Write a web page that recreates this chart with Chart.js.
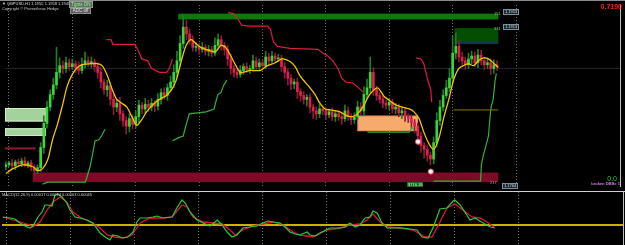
<!DOCTYPE html>
<html><head><meta charset="utf-8">
<script src="https://cdn.jsdelivr.net/npm/chart.js@4"></script>
<style>
html,body{margin:0;padding:0;background:#000;width:625px;height:245px;overflow:hidden;}
#wrap{position:relative;width:625px;height:245px;background:#000;}
#main{position:absolute;left:0;top:0;width:625px;height:191px;}
#sub{position:absolute;left:0;top:192px;width:625px;height:53px;}
.t{position:absolute;font-family:"Liberation Sans",Arial,sans-serif;white-space:nowrap;line-height:1;}
.tag{position:absolute;background:#1d2a31;border:1px solid #7d909a;color:#c9d7de;font-family:"Liberation Sans",Arial,sans-serif;font-size:4px;line-height:4px;height:4px;padding:0 1px;white-space:nowrap;}
</style></head><body>
<div id="wrap">
<div id="main"><canvas id="c1" width="625" height="191"></canvas></div>
<div id="sub"><canvas id="c2" width="625" height="53"></canvas></div>
<div style="position:absolute;left:0;top:0;width:625px;height:1px;background:#8c8c8c"></div>
<div style="position:absolute;left:0;top:191px;width:625px;height:1px;background:#cfcfcf"></div>

<div class="t" style="left:2px;top:2px;font-size:4px;color:#d8d8d8">▼ GBPUSD,H1 1.1955 1.1958 1.1949 1.1953</div>
<div class="t" style="left:2px;top:7px;font-size:4px;color:#c8c8c8">Copyright © Prometheus Hedge</div>
<div class="t" style="left:69px;top:1px;width:24px;height:7px;background:#5f6f5f;border:1px solid #8c9c8c;box-sizing:border-box;color:#8dff8d;font-size:4.5px;text-align:center;line-height:5px">Tgnts ON</div>
<div class="t" style="left:70px;top:8px;width:21px;height:6px;background:#5c5c5c;border:1px solid #8a8a8a;box-sizing:border-box;color:#e0e0e0;font-size:4.5px;text-align:center;line-height:4px">ADC off</div>

<div class="t" style="left:600px;top:3px;width:22px;text-align:right;font-size:7px;font-weight:bold;color:#ff1c1c">0.7190</div>
<div class="t" style="left:600px;top:175px;width:17px;text-align:right;font-size:7px;color:#2ec42e">0.0</div>
<div class="t" style="left:580px;top:182px;width:40px;text-align:right;font-size:4px;font-weight:bold;color:#c77be6">broken DBB= 1</div>

<div class="t" style="left:494px;top:12px;font-size:4px;color:#9ab89a">151</div>
<div class="t" style="left:494px;top:27px;font-size:4px;color:#9ab89a">331</div>
<div class="t" style="left:490px;top:181px;font-size:4px;color:#c89aa0">217</div>
<div class="tag" style="left:503px;top:9px">1.1953</div>
<div class="tag" style="left:503px;top:24px">1.1913</div>
<div class="tag" style="left:502px;top:183px">1.1764</div>
<div class="t" style="left:407px;top:182px;height:5px;background:#1f6b1f;color:#c8f0c8;font-size:4px;line-height:5px;padding:0 1px">$716.18</div>

<div class="t" style="left:2px;top:193px;font-size:4px;color:#cfcfcf">MACD(12,26,9) 0.00017 0.00014 0.00003 0.00045</div>
</div>

<script>
// ---------- DATA (main pane, price in points) ----------
const firstOpen = 20;
const close = [22,24,21,25,23,26,22,24,20,16,
 19,40,65,82,95,105,118,125,122,128,
 124,127,123,120,126,130,127,129,124,118,
 108,100,104,90,82,86,75,68,62,70,
 64,72,84,80,85,82,86,83,90,97,
 94,102,108,118,130,148,165,158,152,144,
 145,142,144,140,142,138,146,152,146,142,
 132,122,118,116,120,124,121,122,130,124,
 128,125,134,130,135,132,133,124,118,112,
 106,108,98,94,90,92,82,78,75,80,
 78,74,77,72,75,72,70,78,72,69,
 72,82,78,95,102,118,100,94,90,86,
 84,87,80,82,76,78,72,70,66,62,
 52,42,38,32,28,45,68,82,94,102,
 112,138,145,134,130,126,132,135,128,136,
 130,126,128,122,126,124];
const wickUp = [3,2,4,2,3,3,4,2,3,2,
 3,5,8,6,5,7,26,8,5,6,
 4,5,3,6,7,9,4,5,3,4,
 5,3,6,4,5,4,6,3,4,5,
 4,6,5,3,6,4,5,3,6,4,
 5,4,6,8,10,8,12,7,5,4,
 4,3,5,3,4,3,8,6,4,3,
 4,5,3,4,5,3,4,3,6,4,
 4,3,6,4,5,3,4,3,4,3,
 4,3,4,3,4,3,4,3,4,5,
 3,4,3,4,3,4,3,6,4,3,
 4,6,5,8,9,16,5,4,3,4,
 3,4,3,4,3,4,3,3,4,3,
 3,4,3,4,3,6,8,7,6,8,
 10,18,14,6,5,4,6,5,4,6,
 5,4,5,4,5,4];
const wickDn = [3,2,3,4,2,3,2,3,4,5,
 3,4,6,5,4,5,4,6,5,4,
 4,3,5,4,3,4,3,4,5,6,
 6,5,7,6,8,5,7,6,8,6,
 5,4,6,5,4,5,4,6,4,5,
 4,5,4,6,5,6,5,6,5,4,
 4,5,3,4,5,4,3,4,5,6,
 7,6,5,4,3,4,3,4,3,4,
 3,4,3,4,3,4,3,5,6,7,
 6,5,7,6,5,7,6,8,6,4,
 4,5,3,4,5,4,6,3,4,5,
 4,3,4,5,4,5,6,5,4,5,
 4,5,4,5,4,6,5,4,6,7,
 8,7,9,6,6,5,4,5,4,3,
 4,5,6,5,4,5,4,5,4,5,
 4,5,4,6,5,4];
// moving average [bar index, price]
const maLine = [[0,13],[2.25,18],[5.4,22],[8.5,20],[10,16],[11.6,18],[13.2,27],[14.75,48],[16.3,64],[17.9,84],[19.4,104],[21,116],[22.6,123],[24.1,126],[26.6,127],[28.8,127],[30.4,125],[32,115],[33.5,101],[35,90],[36.6,86],[38.2,82],[39.8,72],[41.3,63],[42.9,69],[44.4,77],[46,83],[47.6,88],[49.1,91],[50.7,94],[52.3,100],[53.8,110],[55.4,130],[56.9,146],[58.5,152],[60,148],[61.6,144],[64.8,140],[66.3,140],[67.9,146],[69.4,144],[71,135],[72.6,125],[74.1,118],[77.3,120],[80.4,120],[82,124],[85,128],[87.3,132],[89.8,129],[91.3,124],[92.9,114],[96,102],[97.6,95],[99.1,86],[100.7,80],[102.3,79],[105.4,77],[107,74],[108.5,72],[110.1,73],[111.6,77],[113.2,85],[114.8,95],[117.3,102],[119.4,93],[121,89],[122.6,85],[124.1,83],[127.3,80],[128.8,77],[130.4,70],[131.9,56],[133.5,44],[135,38],[136.6,49],[138.2,71],[139.8,90],[141.3,110],[142.9,122],[144.4,125],[146,127],[147.6,125],[149.1,130],[150.7,133],[152.3,132],[153.8,128],[155.4,123]];
// upper band segments
const upperBand = [
 [[31.7,152],[33.2,152],[33.8,147],[40.7,147],[41.9,140],[42.9,132],[44.8,130],[46,122],[48.5,118],[50.7,118],[51.6,122],[52.6,132]],
 [[70.1,180],[71.9,179],[73.2,174],[74.4,167],[76.6,166],[82.6,166],[83.5,163],[84.4,150],[85.7,145],[89.75,143],[98.5,142],[100.1,138],[101.6,135],[103.2,130],[104.8,122],[106,112],[107.3,108],[109.4,107],[111,103],[112.6,98]],
 [[129.4,133],[131,132],[131.9,127],[132.9,113],[134.1,100],[134.4,87]]
];
// lower band segments
const lowerBand = [
 [[11.6,2],[13.2,4],[25.1,4],[26.6,20],[28.2,47],[29.4,48],[30.4,53],[31.3,59]],
 [[52.6,47],[54.4,50],[56,52],[56.6,60],[57.9,75],[63.2,77],[65.7,80],[66.9,95],[67.9,97],[68.8,105],[69.75,110]],
 [[114.1,56],[127.3,56],[127.9,59],[128.2,61],[128.8,58]],
 [[135,5],[149.8,5],[150.1,23],[150.7,32],[151.6,43],[152.3,52],[152.9,75],[153.2,83],[153.8,90],[154.4,110],[154.8,117]]
];
const levelLine = [[-0.25,39],[9.4,39]];
const olivLine = [[141.3,79],[155.4,79]];
const signals = [[130.1,46],[134.1,15]];
// zones [fromBar, toBar, topPrice, bottomPrice]
const zones = [
 [54.4,155.4,179,173],
 [141.6,155.4,164,149],
 [-0.25,12.6,81,67],
 [-0.25,12.6,60,52],
 [8.5,155.4,14,4],
 [111,130,73,57]
];
const zoneFill = ['#0b7a0b','#024f02','#a3d29d','#a3d29d','#7b0b27','#f6aa6e'];
const zoneEdge = [null,'#2a4fa0','#d2ecc8','#d2ecc8',null,'#e8905a'];
const gridBars = [1,21,41,61,81,101,121,141,161];
const hLevel = 122;
// ---------- DATA (MACD pane) ----------
const macdMain = [[0,8],[2.25,7],[3.8,6],[5.4,2],[6.9,-1],[8.5,-3],[9.4,-1],[11,8],[12.25,13],[13.2,20],[14.1,20],[15.4,19],[16.3,30],[17.25,31],[18.5,28],[20,22],[21,15],[22.6,8],[24.1,7],[26.3,5],[28.2,2],[30.4,-8],[32,-12],[33.5,-15],[34.4,-10],[36,-11],[37.25,-13],[39.1,-12],[40.7,-7],[41.9,3],[42.9,7],[45,7],[46.9,8],[48.2,9],[50.1,7],[52.9,8],[54.4,17],[56,25],[57,22],[58.5,13],[60.7,5],[62.6,2],[64.75,-1],[67,5],[68.5,0],[70.1,-7],[71.6,-12],[73.2,-10],[75,-3],[77.25,-2],[79.4,-1],[81.3,2],[82.9,4],[84.4,3],[86.6,2],[88.2,-2],[89.75,-7],[91.3,-9],[92.9,-10],[95.1,-7],[96,-10],[97.6,-11],[99.1,-8],[102.25,-3],[105.4,-3],[107,-2],[108.5,2],[110.1,-2],[111.6,0],[113.2,7],[114.75,8],[115.7,14],[117,12],[118.5,2],[120.1,-3],[121.9,-3],[125,-3],[129.4,-5],[131,-12],[132.9,-13],[134.4,-3],[135.7,8],[136.6,16],[138.8,17],[140.7,24],[141.3,25],[142.9,20],[144.4,13],[146,5],[147.6,7],[149.1,4],[150.7,1],[152.3,-2],[153.8,-3]];
const macdSignal = [[0,8],[5.4,3],[8.5,0],[9.4,-2],[11.6,3],[13.8,15],[15.7,23],[17.9,28],[20,23],[21.9,13],[24.1,8],[27.25,3],[30.4,-3],[32.6,-10],[35,-12],[37.6,-13],[40.4,-10],[42.9,2],[46,7],[50.1,7],[52.9,8],[56,20],[57.6,18],[59.4,8],[62.6,3],[65.7,2],[68.5,1],[71,-5],[72.6,-10],[75,-5],[78.2,-1],[81.3,1],[84.4,3],[87.6,0],[90.7,-7],[92.9,-10],[96.9,-12],[101.3,-5],[105.4,-3],[108.5,0],[111.6,1],[113.8,5],[115.7,11],[117.9,3],[120.1,-2],[124.1,-3],[128.2,-5],[131.9,-12],[134.1,-12],[136.6,3],[138.8,17],[141.3,21],[143.8,15],[146.6,8],[149.1,7],[151.3,3],[153.5,-2]];

// ---------- BUILD ----------
const XMIN = -0.25, XMAX = 193.8125;
const open = close.map((c,i) => i === 0 ? firstOpen : close[i-1]);
const up = close.map((c,i) => c >= open[i]);
const bodies = close.map((c,i) => ({x:i, y:[open[i], c === open[i] ? c + 0.8 : c]}));
const wicks = close.map((c,i) => ({x:i, y:[Math.min(open[i],c) - wickDn[i], Math.max(open[i],c) + wickUp[i]]}));
const pts = a => a.map(p => ({x:p[0], y:p[1]}));
function lineDs(a, color, w, extra){
  return Object.assign({type:'line', data:pts(a), borderColor:color, borderWidth:w, pointRadius:0, fill:false, tension:0, order:5}, extra||{});
}
const xScale = {
  type:'linear', min:XMIN, max:XMAX, offset:false,
  ticks:{display:false}, grid:{color:'#707070', lineWidth:1, drawTicks:false, offset:false},
  border:{display:false, dash:[1,2]},
  afterBuildTicks: s => { s.ticks = gridBars.map(v => ({value:v})); }
};
const zonePlugin = {
  id:'zones',
  beforeDatasetsDraw(chart){
    const {ctx, chartArea:a, scales:{x, y}} = chart;
    ctx.save();
    ctx.beginPath(); ctx.rect(a.left, a.top, a.right - a.left, a.bottom - a.top); ctx.clip();
    zones.forEach((z,k) => {
      const x0 = x.getPixelForValue(z[0]), x1 = x.getPixelForValue(z[1]);
      const y0 = y.getPixelForValue(z[2]), y1 = y.getPixelForValue(z[3]);
      ctx.fillStyle = zoneFill[k];
      ctx.fillRect(x0, y0, x1 - x0, y1 - y0);
      if (zoneEdge[k]) {
        ctx.strokeStyle = zoneEdge[k]; ctx.lineWidth = 1;
        if (k === 1) { ctx.beginPath(); ctx.moveTo(x0, y1 + 0.5); ctx.lineTo(x1, y1 + 0.5); ctx.stroke(); }
        else ctx.strokeRect(x0 + 0.5, y0 + 0.5, x1 - x0 - 1, y1 - y0 - 1);
      }
    });
    ctx.restore();
  }
};

const datasets = [
  {type:'bar', data:wicks, backgroundColor:up.map(u => u ? '#1f7f1f' : '#8c1a38'), barThickness:1, grouped:false, order:20, borderWidth:0},
  {type:'bar', data:bodies, backgroundColor:up.map(u => u ? '#3bd53b' : '#e0204c'), barThickness:2, grouped:false, order:15, borderWidth:0},
  lineDs(levelLine, '#8e1c30', 2),
  lineDs(olivLine, '#8c7a00', 1),
  ...upperBand.map(s => lineDs(s, '#dc1c40', 1.2)),
  ...lowerBand.map(s => lineDs(s, '#33b033', 1.2)),
  lineDs(maLine, '#f2c400', 1.3, {tension:0.3, order:3}),
  {type:'line', data:pts(signals), showLine:false, pointRadius:2.6, pointBackgroundColor:'#f4f4f4', pointBorderColor:'#e0506a', pointBorderWidth:1, order:1}
];

new Chart(document.getElementById('c1'), {
  type:'bar',
  data:{datasets},
  options:{
    responsive:false, animation:false, events:[],
    layout:{padding:{left:2, right:2, top:2, bottom:1}},
    plugins:{legend:{display:false}, tooltip:{enabled:false}},
    scales:{
      x: xScale,
      y: {type:'linear', position:'right', min:0, max:188, beginAtZero:false,
          ticks:{display:false}, grid:{color:'#232323', drawTicks:false},
          border:{display:true, color:'#bdbdbd', width:1},
          afterBuildTicks: s => { s.ticks = [{value:hLevel}]; }}
    }
  },
  plugins:[zonePlugin]
});

new Chart(document.getElementById('c2'), {
  type:'line',
  data:{datasets:[
    lineDs(macdSignal, '#dc1440', 1.3, {order:6}),
    lineDs(macdMain, '#2ccc2c', 1.2, {order:5})
  ]},
  options:{
    responsive:false, animation:false, events:[],
    layout:{padding:{left:2, right:2, top:0, bottom:0}},
    plugins:{legend:{display:false}, tooltip:{enabled:false}},
    scales:{
      x: Object.assign({}, xScale, {grid:Object.assign({}, xScale.grid), border:Object.assign({}, xScale.border)}),
      y: {type:'linear', position:'right', min:-20, max:33,
          ticks:{display:false}, grid:{color:'#c8b400', lineWidth:2, drawTicks:false},
          border:{display:true, color:'#bdbdbd', width:1},
          afterBuildTicks: s => { s.ticks = [{value:0}]; }}
    }
  }
});
</script>
</body></html>
